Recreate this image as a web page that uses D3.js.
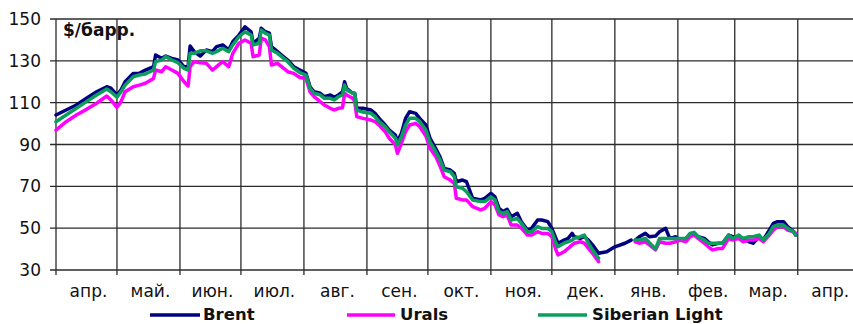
<!DOCTYPE html>
<html>
<head>
<meta charset="utf-8">
<script src="https://cdn.jsdelivr.net/npm/d3@7"></script>
<style>
  body { margin: 0; background: #fff; }
  svg { display: block; }
  text { font-family: "DejaVu Sans", sans-serif; fill: #111; }
</style>
</head>
<body>
<svg id="chart" width="853" height="324"></svg>
<script>
// Daily crude prices, $/bbl (null = no quote that day)
const dates = [
  "2008-04-01","2008-04-06","2008-04-11","2008-04-16","2008-04-21","2008-04-26","2008-04-28","2008-05-01","2008-05-03","2008-05-05",
  "2008-05-09","2008-05-12","2008-05-15","2008-05-19","2008-05-20","2008-05-23","2008-05-25","2008-05-28","2008-05-31","2008-06-03",
  "2008-06-05","2008-06-06","2008-06-08","2008-06-11","2008-06-14","2008-06-17","2008-06-19","2008-06-22","2008-06-25","2008-06-27",
  "2008-06-30","2008-07-03","2008-07-06","2008-07-07","2008-07-10","2008-07-11","2008-07-13","2008-07-15","2008-07-16","2008-07-19",
  "2008-07-21","2008-07-24","2008-07-27","2008-07-30","2008-08-02","2008-08-04","2008-08-06","2008-08-09","2008-08-11","2008-08-14",
  "2008-08-16","2008-08-18","2008-08-20","2008-08-21","2008-08-22","2008-08-25","2008-08-26","2008-08-27","2008-08-30","2008-09-03",
  "2008-09-05","2008-09-07","2008-09-10","2008-09-12","2008-09-15","2008-09-16","2008-09-18","2008-09-20","2008-09-22","2008-09-25",
  "2008-09-27","2008-09-30","2008-10-02","2008-10-05","2008-10-07","2008-10-09","2008-10-12","2008-10-14","2008-10-15","2008-10-18",
  "2008-10-20","2008-10-23","2008-10-27","2008-10-29","2008-11-01","2008-11-03","2008-11-05","2008-11-07","2008-11-09","2008-11-11",
  "2008-11-14","2008-11-16","2008-11-19","2008-11-21","2008-11-24","2008-11-26","2008-11-29","2008-12-01","2008-12-03","2008-12-04",
  "2008-12-07","2008-12-09","2008-12-11","2008-12-12","2008-12-15","2008-12-17","2008-12-19","2008-12-21","2008-12-24","2008-12-28",
  "2009-01-01","2009-01-06","2009-01-09","2009-01-10","2009-01-11","2009-01-13","2009-01-16","2009-01-18","2009-01-21","2009-01-23",
  "2009-01-26","2009-01-28","2009-01-31","2009-02-02","2009-02-05","2009-02-07","2009-02-09","2009-02-11","2009-02-14","2009-02-16",
  "2009-02-18","2009-02-21","2009-02-23","2009-02-26","2009-02-28","2009-03-03","2009-03-05","2009-03-08","2009-03-10","2009-03-13",
  "2009-03-15","2009-03-18","2009-03-20","2009-03-22","2009-03-25","2009-03-27","2009-03-30","2009-03-31"
];

const brent = [
  104.1,106.5,108.9,112.1,115.2,117.6,116.9,113.7,116.1,120.0,
  124.0,124.0,125.6,127.2,132.8,131.2,132.3,131.2,130.4,127.2,
  127.2,137.1,134.4,132.3,135.2,134.4,136.8,137.6,135.2,139.1,
  142.3,146.3,143.9,138.4,140.8,145.6,143.9,143.2,136.8,134.4,
  132.8,130.4,127.2,125.6,124.0,117.6,115.2,114.5,112.9,113.7,
  112.6,113.7,115.2,120.0,116.9,114.5,114.5,107.3,107.3,106.5,
  104.9,102.5,99.3,96.9,94.5,91.3,95.4,102.5,105.7,104.9,
  102.5,99.3,93.1,87.8,84.0,78.6,77.8,76.2,72.2,73.0,
  72.2,64.3,63.5,64.3,66.7,65.0,59.5,57.9,59.0,55.5,
  57.1,53.1,49.1,49.9,53.9,53.9,53.1,49.9,45.1,42.8,
  44.3,45.1,47.5,45.9,45.1,45.9,44.3,42.0,38.0,38.7,
  41.1,42.8,44.3,null,44.3,45.9,47.5,45.9,46.2,48.3,
  49.9,45.1,45.9,44.3,45.1,46.7,47.5,45.9,45.1,43.5,
  42.0,42.8,42.8,46.7,45.9,45.9,45.1,43.5,42.8,45.9,
  44.3,49.1,52.3,53.1,53.1,50.7,48.3,46.7
];

const urals = [
  96.9,100.9,104.1,106.8,109.7,113.2,111.3,107.8,110.5,115.2,
  117.6,118.4,119.3,121.6,125.6,124.8,127.2,125.6,124.0,120.0,
  118.0,127.2,129.6,129.1,128.8,125.6,127.2,129.6,127.2,133.6,
  138.4,140.0,138.4,132.0,132.8,140.8,140.0,136.8,128.0,128.8,
  127.2,124.8,124.0,122.0,121.6,115.2,112.9,110.5,108.9,107.3,
  106.5,107.3,107.6,114.5,113.7,112.1,110.5,103.3,102.5,101.7,
  100.9,99.3,96.1,93.0,89.8,85.8,90.6,96.1,99.3,100.1,
  98.5,94.1,88.3,84.0,79.7,74.6,73.0,71.4,64.3,63.5,
  63.5,60.3,58.7,59.5,62.7,61.1,56.3,55.5,56.3,51.5,
  51.5,50.0,46.7,46.7,48.3,47.5,47.5,45.9,39.6,37.2,
  38.7,40.3,42.0,42.8,43.5,42.8,40.3,38.0,34.0,null,
  null,null,null,null,43.5,42.8,43.5,42.0,39.6,43.5,
  42.8,42.8,43.5,44.3,43.5,45.9,46.7,45.1,42.8,41.1,
  39.6,40.3,40.3,45.1,44.3,45.1,43.5,44.3,44.3,45.1,
  43.5,46.7,49.1,50.7,50.7,49.1,48.3,47.5
];

const siberianLight = [
  100.9,104.1,107.3,110.5,113.7,116.5,115.2,112.6,115.2,118.4,
  122.4,123.2,123.7,125.6,129.6,130.4,132.0,130.4,129.1,126.4,
  125.6,133.6,133.6,134.8,134.8,133.6,134.4,136.0,134.4,137.6,
  141.5,143.9,142.3,137.6,138.4,144.7,143.2,142.3,135.2,133.6,
  132.0,129.6,126.4,124.4,123.2,116.9,114.5,113.7,112.1,112.1,
  111.3,112.9,113.7,118.4,116.1,114.5,114.5,106.5,105.5,104.9,
  103.3,100.9,98.5,96.1,93.0,89.8,93.7,99.3,102.5,102.5,
  100.9,96.9,91.2,86.4,82.6,77.8,77.0,74.6,69.8,69.1,
  67.4,63.5,62.7,62.7,65.0,63.5,57.9,57.1,57.9,53.9,
  54.7,52.3,48.3,48.3,50.7,49.9,49.9,48.3,42.8,41.1,
  42.8,43.5,44.3,45.1,45.9,46.7,42.8,39.6,35.6,null,
  null,null,null,null,44.3,44.3,45.1,43.0,40.0,45.1,
  45.1,45.1,45.1,45.1,45.1,47.5,48.0,45.9,44.3,42.8,
  42.8,42.8,42.8,46.7,45.1,46.7,45.1,45.9,45.9,46.7,
  44.3,47.5,50.7,51.5,51.5,49.9,48.3,46.7
];

const monthLabels = ["апр.","май.","июн.","июл.","авг.","сен.","окт.","ноя.","дек.","янв.","фев.","мар.","апр."];
const yTicks = [30, 50, 70, 90, 110, 130, 150];
const seriesNames = ["Brent", "Urals", "Siberian Light"];
const unitLabel = "$/барр.";

const parse = d3.utcParse("%Y-%m-%d");
const rows = dates.map((d, i) => ({
  date: parse(d),
  values: [brent[i], urals[i], siberianLight[i]]
}));

const svg = d3.select("#chart");
const plotLeft = 56, plotTop = 19, plotBottom = 270;
const start = parse("2008-04-01"), end = parse("2009-05-01");
const x = d3.scaleUtc().domain([start, end])
  .range([plotLeft, plotLeft + d3.utcDay.count(start, end) * 2.0322]);
const y = d3.scaleLinear().domain([30, 150]).range([plotBottom, plotTop]);

const gridColor = "#2b2b2b";
const months = d3.utcMonth.range(start, end);

// horizontal grid + y ticks
const gy = svg.append("g");
gy.selectAll("line").data(yTicks).join("line")
  .attr("x1", plotLeft - 6).attr("x2", x.range()[1])
  .attr("y1", d => y(d)).attr("y2", d => y(d))
  .attr("stroke", gridColor).attr("stroke-width", 1.3);
gy.selectAll("text").data(yTicks).join("text")
  .attr("x", 41).attr("y", d => y(d))
  .attr("text-anchor", "end").attr("dominant-baseline", "central")
  .attr("font-size", 17).text(d => d);

// vertical month grid + x ticks
const gx = svg.append("g");
gx.selectAll("line").data(months).join("line")
  .attr("x1", d => x(d)).attr("x2", d => x(d))
  .attr("y1", plotTop).attr("y2", plotBottom + 5)
  .attr("stroke", gridColor).attr("stroke-width", 1.3);
gx.selectAll("text").data(months).join("text")
  .attr("x", d => (x(d) + x(d3.utcMonth.offset(d, 1))) / 2 + 2)
  .attr("y", 297)
  .attr("text-anchor", "middle")
  .attr("font-size", 17)
  .text((d, i) => monthLabels[i]);

// series
const colors = ["#000080", "#ff00ff", "#0b9e5c"];
seriesNames.forEach((name, k) => {
  const line = d3.line()
    .defined(r => r.values[k] != null)
    .x(r => x(r.date))
    .y(r => y(r.values[k]));
  svg.append("path")
    .datum(rows)
    .attr("fill", "none")
    .attr("stroke", colors[k])
    .attr("stroke-width", 3.5)
    .attr("stroke-linejoin", "round")
    .attr("stroke-linecap", "round")
    .attr("d", line);
});

// unit caption
svg.append("text")
  .attr("x", 63).attr("y", 36)
  .attr("font-size", 17).attr("font-weight", "bold")
  .text(unitLabel);

// legend
const legendItems = [
  { x1: 150, x2: 200, tx: 203 },
  { x1: 347, x2: 395, tx: 400 },
  { x1: 538, x2: 587, tx: 592 }
];
const lg = svg.append("g");
legendItems.forEach((it, k) => {
  lg.append("line")
    .attr("x1", it.x1).attr("x2", it.x2)
    .attr("y1", 315).attr("y2", 315)
    .attr("stroke", colors[k]).attr("stroke-width", 3.5);
  lg.append("text")
    .attr("x", it.tx).attr("y", 320)
    .attr("font-size", 16.5).attr("font-weight", "bold")
    .text(seriesNames[k]);
});
</script>
</body>
</html>
